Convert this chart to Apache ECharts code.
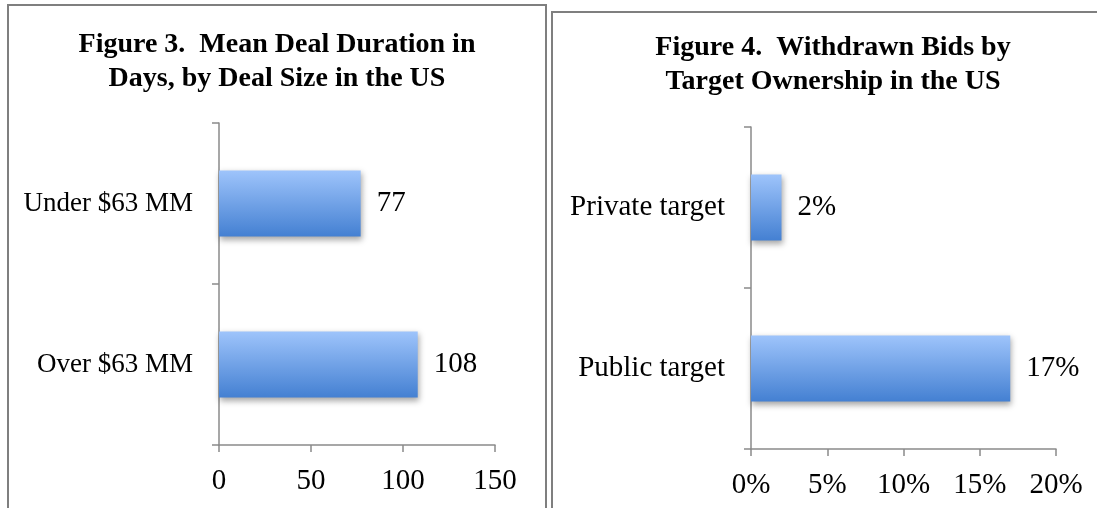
<!DOCTYPE html>
<html>
<head>
<meta charset="utf-8">
<script src="https://cdn.jsdelivr.net/npm/echarts@6/dist/echarts.min.js"></script>
<style>
html,body{margin:0;padding:0;background:#fff;}
#c{width:1097px;height:508px;}
</style>
</head>
<body>
<div id="c"></div>
<script>
// Figure 3 data
const fig3Title = 'Figure 3.  Mean Deal Duration in\nDays, by Deal Size in the US';
const fig3Categories = ['Over $63 MM', 'Under $63 MM'];
const fig3Values = [108, 77];
const fig3Axis = { min: 0, max: 150, interval: 50 };

// Figure 4 data
const fig4Title = 'Figure 4.  Withdrawn Bids by\nTarget Ownership in the US';
const fig4Categories = ['Public target', 'Private target'];
const fig4Values = [17, 2];
const fig4Axis = { min: 0, max: 20, interval: 5 };

const serif = '"Liberation Serif", "DejaVu Serif", serif';
const axisColor = '#8a8a8a';
const barGradient = new echarts.graphic.LinearGradient(0, 0, 0, 1, [
  { offset: 0, color: '#9ec4fb' },
  { offset: 1, color: '#4480d2' }
]);

function valueAxis(idx, cfg, fmt) {
  return {
    type: 'value', gridIndex: idx, min: cfg.min, max: cfg.max, interval: cfg.interval,
    axisLine: { show: true, lineStyle: { color: axisColor, width: 1.5 } },
    axisTick: { show: true, length: 7, lineStyle: { color: axisColor, width: 1.5 } },
    splitLine: { show: false },
    axisLabel: { color: '#000', fontFamily: serif, fontSize: 29, margin: 22, formatter: fmt }
  };
}
function catAxis(idx, cats, size) {
  return {
    type: 'category', gridIndex: idx, data: cats,
    axisLine: { show: true, lineStyle: { color: axisColor, width: 1.5 } },
    axisTick: { show: true, length: 7, lineStyle: { color: axisColor, width: 1.5 } },
    axisLabel: { color: '#000', fontFamily: serif, fontSize: size, margin: 26 }
  };
}
function barSeries(idx, vals, fmt) {
  return {
    type: 'bar', xAxisIndex: idx, yAxisIndex: idx, data: vals,
    barCategoryGap: '59%',
    itemStyle: { color: barGradient, shadowBlur: 6, shadowColor: 'rgba(0,0,0,0.35)', shadowOffsetY: 3, shadowOffsetX: 1 },
    label: { show: true, position: 'right', distance: 16, color: '#000', fontFamily: serif, fontSize: 29, formatter: fmt },
    silent: true
  };
}

const chart = echarts.init(document.getElementById('c'), null, { renderer: 'canvas' });
chart.setOption({
  animation: false,
  backgroundColor: '#fff',
  graphic: [
    { type: 'rect', shape: { x: 8, y: 5, width: 538, height: 520 }, style: { fill: 'none', stroke: '#7f7f7f', lineWidth: 2 }, silent: true },
    { type: 'rect', shape: { x: 552, y: 12, width: 560, height: 520 }, style: { fill: 'none', stroke: '#7f7f7f', lineWidth: 2 }, silent: true }
  ],
  title: [
    { text: fig3Title, left: 272, top: 23, textAlign: 'center',
      textStyle: { fontFamily: serif, fontWeight: 'bold', fontSize: 28, lineHeight: 34, color: '#000' } },
    { text: fig4Title, left: 828, top: 26, textAlign: 'center',
      textStyle: { fontFamily: serif, fontWeight: 'bold', fontSize: 28, lineHeight: 34, color: '#000' } }
  ],
  grid: [
    { left: 219, top: 123, width: 276, height: 322 },
    { left: 751, top: 127, width: 305, height: 322 }
  ],
  xAxis: [ valueAxis(0, fig3Axis, '{value}'), valueAxis(1, fig4Axis, '{value}%') ],
  yAxis: [ catAxis(0, fig3Categories, 27), catAxis(1, fig4Categories, 29) ],
  series: [ barSeries(0, fig3Values, '{c}'), barSeries(1, fig4Values, '{c}%') ]
});
</script>
</body>
</html>
